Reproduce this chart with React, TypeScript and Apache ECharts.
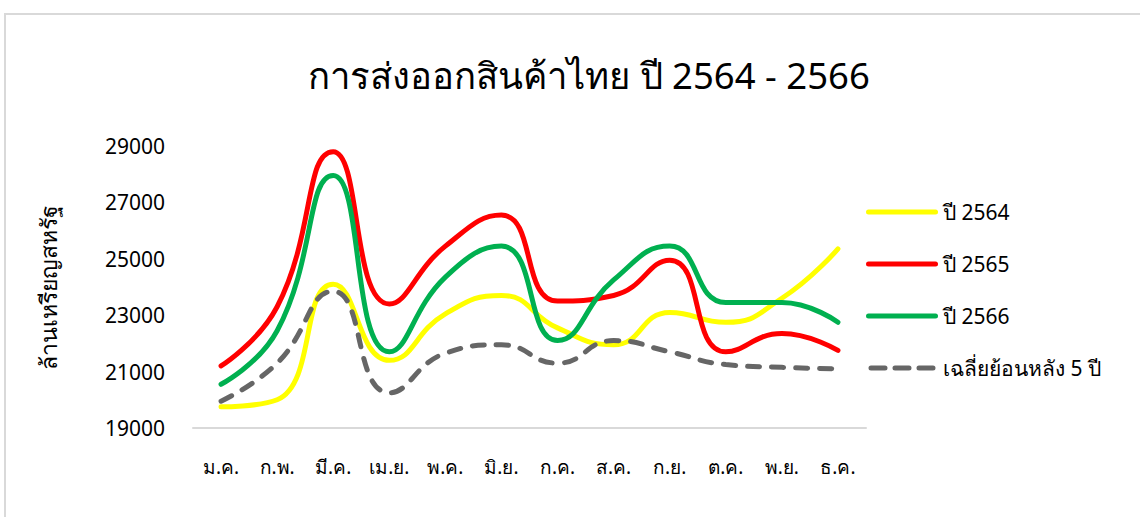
import React, { useEffect, useRef } from "react";
import * as echarts from "echarts";

const months = ["ม.ค.", "ก.พ.", "มี.ค.", "เม.ย.", "พ.ค.", "มิ.ย.", "ก.ค.", "ส.ค.", "ก.ย.", "ต.ค.", "พ.ย.", "ธ.ค."];
const y2564 = [19750, 20000, 24100, 21400, 23050, 23700, 22550, 21950, 23100, 22750, 23600, 25350];
const y2565 = [21200, 23300, 28800, 23400, 25450, 26550, 23500, 23700, 24950, 21700, 22350, 21750];
const y2566 = [20550, 22450, 27950, 21700, 24350, 25450, 22100, 24250, 25450, 23450, 23450, 22750];
const avg5 = [19950, 21300, 23850, 20250, 21650, 21950, 21300, 22100, 21700, 21250, 21150, 21100];
const seriesNames = ["ปี 2564", "ปี 2565", "ปี 2566", "เฉลี่ยย้อนหลัง 5 ปี"];
const yTicks = { min: 19000, max: 29000, interval: 2000 };

const FONT = "'Noto Sans', 'DejaVu Sans', sans-serif";
const SOLID_ICON = "path://M2.5,0 H69.5 A2.5,2.5 0 0 1 69.5,5 H2.5 A2.5,2.5 0 0 1 2.5,0 Z";
const DASH_ICON =
  "path://M2.5,0 H16.5 A2.5,2.5 0 0 1 16.5,5 H2.5 A2.5,2.5 0 0 1 2.5,0 Z " +
  "M26.5,0 H40.5 A2.5,2.5 0 0 1 40.5,5 H26.5 A2.5,2.5 0 0 1 26.5,0 Z " +
  "M50.5,0 H64.5 A2.5,2.5 0 0 1 64.5,5 H50.5 A2.5,2.5 0 0 1 50.5,0 Z";

export default function App() {
  const ref = useRef<HTMLDivElement>(null);
  useEffect(() => {
    if (!ref.current) return;
    const chart = echarts.init(ref.current, undefined, { renderer: "svg" });
    const mk = (name: string, data: number[], color: string, dashed = false) => ({
      name,
      type: "line",
      data,
      smooth: 0.5,
      symbol: "none",
      lineStyle: {
        color,
        width: 5,
        type: dashed ? [12, 12] : "solid",
        cap: "round",
      },
      itemStyle: { color },
    });
    chart.setOption({
      animation: false,
      backgroundColor: "#ffffff",
      textStyle: { fontFamily: FONT },
      graphic: [
        {
          type: "rect",
          shape: { x: 5, y: 14, width: 1200, height: 600 },
          style: { fill: "none", stroke: "#d9d9d9", lineWidth: 2 },
          silent: true,
        },
      ],
      title: {
        text: "การส่งออกสินค้าไทย ปี 2564 - 2566",
        left: 584,
        textAlign: "center",
        top: 51,
        textStyle: { fontSize: 36.5, fontWeight: "normal", color: "#000", fontFamily: FONT },
      },
      grid: { left: 193, right: 274, top: 146, bottom: 89 },
      legend: {
        orient: "vertical",
        left: 866,
        top: 198,
        padding: 0,
        itemWidth: 72,
        itemHeight: 5,
        itemGap: 24,
        textStyle: { fontSize: 21, color: "#000", fontFamily: FONT, lineHeight: 28 },
        data: seriesNames.map((n, i) => ({ name: n, icon: i === 3 ? DASH_ICON : SOLID_ICON })),
      },
      xAxis: {
        type: "category",
        data: months,
        boundaryGap: true,
        axisLine: { lineStyle: { color: "#d9d9d9", width: 2 } },
        axisTick: { show: false },
        axisLabel: { fontSize: 19, color: "#000", margin: 29, fontFamily: FONT },
      },
      yAxis: {
        type: "value",
        min: yTicks.min,
        max: yTicks.max,
        interval: yTicks.interval,
        name: "ล้านเหรียญสหรัฐ",
        nameLocation: "middle",
        nameGap: 134,
        nameRotate: 90,
        nameTextStyle: { fontSize: 23, color: "#000", fontFamily: FONT },
        axisLine: { show: false },
        axisTick: { show: false },
        splitLine: { show: false },
        axisLabel: {
          fontSize: 21,
          color: "#000",
          margin: 28,
          fontFamily: FONT,
          formatter: (v: number) => String(v),
        },
      },
      series: [
        mk(seriesNames[0], y2564, "#FFFF00"),
        mk(seriesNames[1], y2565, "#FF0000"),
        mk(seriesNames[2], y2566, "#00B050"),
        mk(seriesNames[3], avg5, "#666666", true),
      ],
    });
    return () => chart.dispose();
  }, []);
  return (
    <div
      ref={ref}
      style={{ position: "absolute", left: 0, top: 0, width: 1140, height: 517 }}
    />
  );
}
